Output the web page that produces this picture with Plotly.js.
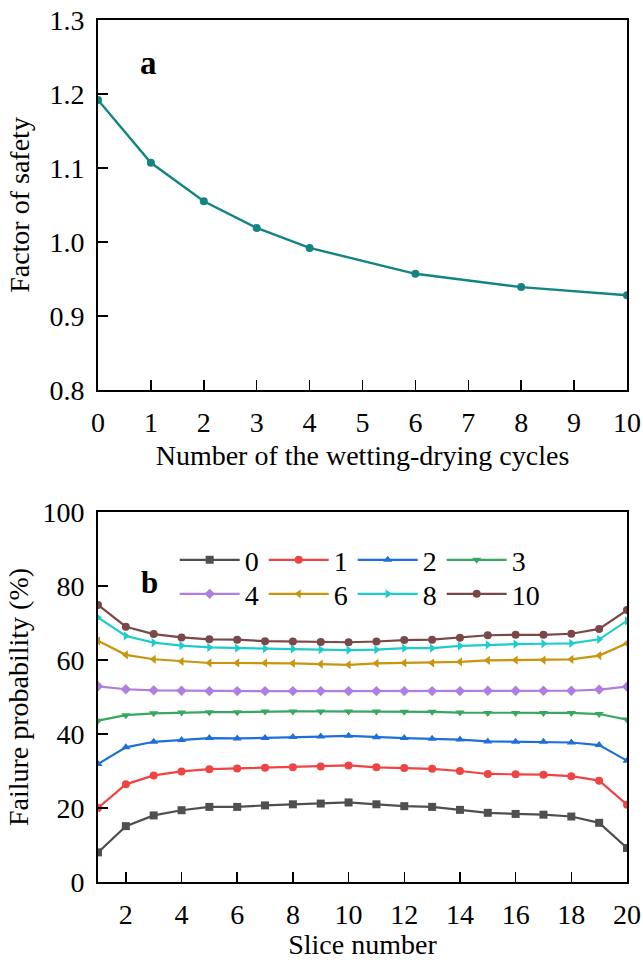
<!DOCTYPE html>
<html>
<head>
<meta charset="utf-8">
<script src="https://cdn.plot.ly/plotly-3.0.1.min.js"></script>
<style>html,body{margin:0;padding:0;background:#fff;}#chart{width:643px;height:960px;}</style>
</head>
<body>
<div id="chart"></div>
<script>
// Panel a: factor of safety vs number of wetting-drying cycles
const cycles = [0, 1, 2, 3, 4, 6, 8, 10];
const factorOfSafety = [1.192, 1.107, 1.055, 1.019, 0.992, 0.957, 0.939, 0.928];

// Panel b: failure probability (%) per slice for each cycle count
const slices = [1,2,3,4,5,6,7,8,9,10,11,12,13,14,15,16,17,18,19,20];
const seriesNames = ["0", "1", "2", "3", "4", "6", "8", "10"];
const fp0  = [8.0, 15.1, 18.0, 19.4, 20.3, 20.3, 20.7, 21.0, 21.2, 21.5, 21.0, 20.5, 20.3, 19.5, 18.7, 18.4, 18.2, 17.7, 16.0, 9.2];
const fp1  = [20.0, 26.4, 28.8, 29.9, 30.5, 30.7, 30.9, 31.0, 31.2, 31.5, 31.0, 30.8, 30.6, 30.0, 29.2, 29.1, 29.0, 28.6, 27.4, 20.9];
const fp2  = [31.9, 36.4, 37.9, 38.4, 38.9, 38.8, 38.9, 39.2, 39.3, 39.5, 39.1, 38.9, 38.7, 38.5, 38.0, 37.9, 37.9, 37.7, 37.0, 32.8];
const fp3  = [43.6, 45.1, 45.6, 45.8, 45.9, 45.9, 46.1, 46.1, 46.1, 46.1, 46.1, 46.0, 46.0, 45.8, 45.7, 45.7, 45.7, 45.7, 45.4, 43.9];
const fp4  = [52.9, 52.1, 51.8, 51.7, 51.6, 51.6, 51.6, 51.6, 51.6, 51.6, 51.6, 51.6, 51.6, 51.6, 51.7, 51.7, 51.7, 51.7, 52.0, 52.8];
const fp6  = [65.2, 61.4, 60.2, 59.6, 59.2, 59.2, 59.2, 59.1, 58.9, 58.7, 59.1, 59.2, 59.2, 59.5, 59.9, 60.0, 60.0, 60.2, 61.2, 64.5];
const fp8  = [71.5, 66.5, 64.7, 63.9, 63.4, 63.2, 63.1, 63.0, 62.8, 62.7, 62.8, 63.2, 63.2, 63.8, 64.1, 64.3, 64.4, 64.5, 65.6, 70.6];
const fp10 = [74.9, 69.0, 67.0, 66.1, 65.6, 65.5, 65.1, 65.0, 64.9, 64.8, 65.0, 65.4, 65.5, 66.0, 66.7, 66.8, 66.8, 67.1, 68.4, 73.5];

const xTicksB = [2,4,6,8,10,12,14,16,18,20];

const seriesValues = [fp0, fp1, fp2, fp3, fp4, fp6, fp8, fp10];
const colors = ["#4f4f4f", "#f04444", "#1e6fdc", "#38a860", "#b07ee0", "#c8960c", "#1fcccc", "#7a4848"];
const symbols = ["square", "circle", "triangle-up", "triangle-down", "diamond", "triangle-left", "triangle-right", "circle"];

const FONT = "Liberation Serif, Times New Roman, serif";
const FS = 28;

const traces = [{
  x: cycles, y: factorOfSafety, type: "scatter", mode: "lines+markers",
  line: {color: "#128583", width: 2.4}, marker: {color: "#128583", size: 8, symbol: "circle"},
  xaxis: "x", yaxis: "y", showlegend: false
}];
seriesValues.forEach((vals, i) => {
  traces.push({
    x: slices, y: vals, type: "scatter", mode: "lines+markers", name: seriesNames[i],
    line: {color: colors[i], width: 2.2}, marker: {color: colors[i], size: 8, symbol: symbols[i]},
    xaxis: "x2", yaxis: "y2", legend: i < 4 ? "legend" : "legend2"
  });
});

const axisCommon = {
  showline: true, linecolor: "#000", linewidth: 2, mirror: true,
  ticks: "inside", ticklen: 10, tickwidth: 1.5, tickcolor: "#000",
  showgrid: false, zeroline: false,
  tickfont: {family: FONT, size: FS, color: "#000"}
};

const legendCommon = {
  orientation: "h", xref: "paper", yref: "paper", xanchor: "left", yanchor: "middle",
  font: {family: FONT, size: FS, color: "#000"}, bgcolor: "rgba(0,0,0,0)",
  itemwidth: 60, tracegroupgap: 0, itemclick: false
};

const layout = {
  width: 643, height: 960,
  margin: {l: 98, r: 16, t: 20, b: 78},
  paper_bgcolor: "#fff", plot_bgcolor: "#fff",
  showlegend: true,
  xaxis: Object.assign({}, axisCommon, {
    domain: [0, 1], anchor: "y", range: [0, 10], dtick: 1, tick0: 0,
    ticklabelstandoff: 6,
    title: {text: "Number of the wetting-drying cycles", font: {family: FONT, size: FS, color: "#000"}, standoff: 9}
  }),
  yaxis: Object.assign({}, axisCommon, {
    domain: [0.5708, 1], anchor: "x", range: [0.8, 1.3], dtick: 0.1, tick0: 0.8, tickformat: ".1f",
    ticklabelstandoff: 6,
    title: {text: "Factor of safety", font: {family: FONT, size: FS, color: "#000"}, standoff: 12}
  }),
  xaxis2: Object.assign({}, axisCommon, {
    domain: [0, 1], anchor: "y2", range: [1, 20], tickmode: "array", tickvals: xTicksB,
    ticklabelstandoff: 6,
    title: {text: "Slice number", font: {family: FONT, size: FS, color: "#000"}, standoff: 9}
  }),
  yaxis2: Object.assign({}, axisCommon, {
    domain: [0, 0.4292], anchor: "x2", range: [0, 100], dtick: 20, tick0: 0,
    ticklabelstandoff: 6,
    title: {text: "Failure probability (%)", font: {family: FONT, size: FS, color: "#000"}, standoff: 6}
  }),
  legend: Object.assign({}, legendCommon, {x: 0.145, y: 0.4292 * 0.87}),
  legend2: Object.assign({}, legendCommon, {x: 0.145, y: 0.4292 * 0.778}),
  annotations: [
    {text: "<b>a</b>", x: 0.95, y: 1.242, xref: "x", yref: "y", showarrow: false,
     font: {family: FONT, size: 33, color: "#000"}, xanchor: "center", yanchor: "middle"},
    {text: "<b>b</b>", x: 2.85, y: 81, xref: "x2", yref: "y2", showarrow: false,
     font: {family: FONT, size: 31, color: "#000"}, xanchor: "center", yanchor: "middle"}
  ]
};

Plotly.newPlot("chart", traces, layout, {displayModeBar: false, staticPlot: true});
</script>
</body>
</html>
